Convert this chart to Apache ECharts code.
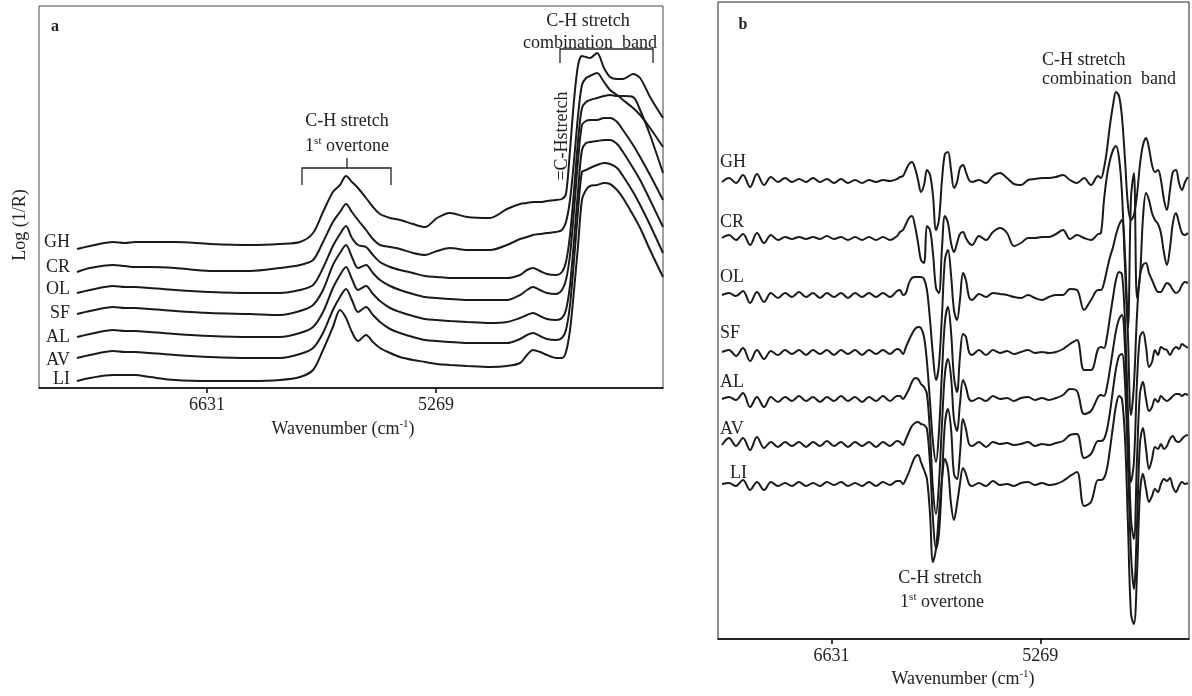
<!DOCTYPE html>
<html>
<head>
<meta charset="utf-8">
<title>NIR spectra a / b</title>
<script src="https://cdn.jsdelivr.net/npm/echarts@6/dist/echarts.min.js"></script>
<style>
html, body { margin: 0; padding: 0; background: #fff; }
#chart { width: 1192px; height: 696px; }
</style>
</head>
<body>
<div id="chart"></div>
<script>
// sample order, top to bottom
var samples = ['GH', 'CR', 'OL', 'SF', 'AL', 'AV', 'LI'];
var tickWaves = [6631, 5269];

// ---- panel a : log(1/R) raw spectra (arbitrary units, already stacked)
var aWave = [7404, 7327, 7190, 7119, 7059, 6970, 6821, 6613, 6375, 6197, 6078, 6000, 5941, 5882, 5840, 5804, 5769, 5733, 5685, 5644, 5602, 5542, 5483, 5406, 5334, 5263, 5186, 5084, 4948, 4847, 4769, 4728, 4692, 4650, 4609, 4555, 4520, 4496, 4472, 4448, 4424, 4401, 4377, 4353, 4311, 4270, 4234, 4192, 4157, 4097, 4055, 3996, 3919];
var aGH = [139, 142, 146, 145, 146, 146, 146, 144, 143, 144, 146, 155, 176, 196, 203, 212, 206, 200, 190, 181, 174, 170, 168, 164, 161, 170, 175, 171, 170, 179, 184, 185, 186, 186, 187, 188, 189, 194, 238, 288, 323, 332, 331, 330, 335, 320, 311, 309, 309, 314, 310, 291, 270];
var aCR = [116, 120, 123, 122, 121, 121, 120, 117, 117, 120, 123, 128, 146, 166, 176, 184, 176, 168, 158, 149, 143, 141, 139, 135, 133, 137, 140, 138, 138, 143, 149, 151, 153, 154, 155, 156, 158, 166, 188, 228, 273, 303, 310, 312, 315, 306, 298, 293, 288, 280, 273, 260, 241];
var aOL = [95, 98, 102, 101, 101, 100, 98, 96, 95, 95, 98, 103, 120, 142, 154, 162, 150, 143, 141, 133, 126, 121, 118, 115, 112, 111, 110, 110, 110, 110, 113, 118, 120, 117, 114, 113, 116, 126, 153, 198, 248, 280, 286, 288, 290, 292, 293, 292, 292, 291, 278, 253, 215];
var aSF = [74, 77, 81, 80, 80, 79, 77, 75, 74, 73, 77, 83, 98, 123, 135, 143, 131, 120, 123, 115, 108, 102, 98, 94, 91, 90, 89, 88, 88, 88, 93, 98, 101, 98, 95, 94, 98, 108, 133, 178, 228, 263, 267, 268, 268, 270, 270, 266, 258, 243, 231, 213, 188];
var aAL = [51, 54, 58, 57, 57, 56, 54, 52, 51, 51, 55, 61, 76, 100, 113, 121, 109, 98, 102, 94, 87, 80, 76, 72, 69, 68, 67, 66, 65, 66, 70, 73, 75, 72, 69, 68, 70, 78, 103, 148, 198, 238, 245, 246, 247, 248, 248, 244, 236, 220, 208, 188, 161];
var aAV = [30, 33, 37, 36, 36, 35, 33, 31, 30, 30, 34, 40, 55, 78, 91, 99, 88, 76, 81, 73, 66, 59, 55, 51, 48, 47, 46, 45, 45, 45, 49, 53, 55, 52, 49, 48, 50, 58, 83, 128, 178, 216, 218, 220, 223, 225, 224, 220, 212, 196, 183, 163, 135];
var aLI = [7, 10, 13, 13, 13, 11, 8, 7, 7, 8, 11, 18, 38, 61, 78, 70, 56, 47, 53, 46, 40, 35, 31, 28, 26, 24, 23, 22, 21, 22, 25, 33, 38, 36, 33, 30, 30, 36, 58, 98, 143, 188, 198, 202, 203, 205, 204, 198, 190, 173, 160, 138, 111];

// ---- panel b : derivative spectra, values relative to each trace's own baseline
var bWave = [7344, 7298, 7253, 7207, 7161, 7116, 7070, 7025, 6979, 6933, 6888, 6842, 6796, 6751, 6705, 6660, 6614, 6568, 6523, 6477, 6431, 6386, 6340, 6295, 6249, 6203,
  6184, 6164, 6145, 6125, 6106, 6086, 6066, 6047, 6027, 6008, 5988, 5969, 5949, 5930, 5910, 5891, 5871, 5851, 5832, 5812, 5793, 5773, 5754, 5734, 5714,
  5669, 5623, 5578, 5532, 5486, 5441, 5395, 5349, 5304, 5258, 5213, 5167, 5121, 5076, 5030, 4984, 4939, 4893,
  4874, 4854, 4835, 4815, 4795, 4776, 4756, 4737, 4717, 4698, 4678, 4659, 4639, 4620, 4600, 4580, 4561, 4541, 4522, 4502, 4483, 4463, 4444, 4424, 4405, 4385, 4365, 4346, 4326, 4307];
var bOffset = [459, 401, 344, 287, 240, 195, 155];
var bGH = [-2, 2, -3, 5, -7, 6, -5, 3, -2, 2, -2, 1, -2, 2, -2, 1, -3, 1, -3, 0, -3, 0, -2, 0, -1, 1,
  3, 4, 10, 16, 18, 12, 0, -12, -5, 10, 5, -15, -50, -40, 0, 26, 28, 10, -8, -2, 12, 15, 8, 0, -2,
  0, -3, 4, 7, 2, -4, -5, 0, 1, 2, 2, 3, 5, 0, -3, 2, -5, 4,
  2, 12, 30, 55, 75, 88, 84, 63, 20, -25, -40, -35, -15, 15, 35, 42, 32, 15, 8, 10, 0, -20, -30, -10, 8, 10, -3, -10, -2, 3];
var bCR = [0, 3, -2, 4, -7, 5, -5, 3, -2, 1, -1, 1, -1, 1, -1, 2, -1, 1, -2, 1, -2, 1, -2, 1, -2, 2,
  6, 8, 14, 20, 22, 12, -5, -22, -25, 12, 8, -15, -50, -55, -10, 22, 15, -5, -14, -5, 4, 6, 0, -5, -7,
  2, -2, 6, 10, 5, -8, -5, 0, 0, 1, 1, 4, 8, -1, 3, 0, -2, 4,
  5, 38, 62, 78, 88, 92, 80, 45, -30, -90, 40, 65, -60, -40, 20, 45, 38, 25, 18, 14, 5, -15, -27, -10, 15, 25, 15, 5, 3, 5];
var bOL = [0, 2, -1, 4, -8, 3, -7, 2, -3, 2, -2, 3, -2, 2, -3, 2, -2, 2, -3, 2, -2, 2, -2, 2, -2, 4,
  5, 0, 2, 12, 17, 18, 18, 18, 16, 5, -25, -60, -85, -70, -20, 35, 45, 20, -15, -25, -5, 22, 15, -2, -5,
  1, -2, 2, 1, 0, -2, -3, 0, -3, -5, -2, 0, 0, 6, 5, -15, -5, 5,
  5, 12, 25, 38, 48, 60, 70, 75, 40, -40, -120, -90, -20, 20, 30, 32, 22, 15, 8, 3, 3, 8, 12, 10, 5, 2, 4, 10, 13, 12];
var bSF = [0, 2, -4, 4, -9, 2, -7, 1, -3, 2, -2, 2, -3, 2, -2, 2, -3, 2, -2, 2, -3, 2, -2, 2, -2, 3,
  2, -2, 5, 12, 18, 23, 25, 24, 15, -10, -50, -90, -110, -80, -20, 30, 45, 20, -25, -40, -5, 18, 15, 0, -3,
  2, -3, 2, -1, 1, -2, 0, 2, -1, 0, -1, 0, 3, 8, 12, -18, -18, 3,
  5, 4, 15, 35, 55, 72, 80, 78, 30, -60, -130, -110, -30, 15, 20, 5, -15, -10, 2, -3, 5, 3, 2, -3, 2, 5, 3, 8, 6, 4];
var bAL = [0, 2, -1, 6, -8, 2, -8, 2, -3, 2, -2, 3, -2, 2, -3, 2, -2, 3, -2, 2, -3, 2, -2, 3, -2, 3,
  3, 0, 4, 10, 17, 21, 20, 15, 12, 5, -35, -90, -115, -85, -25, 25, 40, 22, -20, -32, -5, 19, 12, 0, -2,
  1, -2, 3, 0, 1, -2, 1, 2, -1, 1, -1, 1, 4, 10, 8, -15, -12, 2,
  4, 3, 12, 30, 50, 68, 80, 84, 50, -30, -120, -140, -60, 5, 17, 0, -12, -8, 0, -3, 3, 0, -2, 0, 3, 5, 5, 3, 5, 4];
var bAV = [-1, 6, -2, 6, -6, 7, -4, 2, -3, 2, -2, 2, -3, 2, -2, 3, -2, 2, -3, 2, -2, 2, -3, 2, -2, 3,
  2, -1, 5, 12, 18, 21, 22, 20, 19, 15, -20, -75, -105, -90, -35, 20, 35, 15, -30, -35, -10, 25, 15, 0, -2,
  2, -3, 2, 0, 1, -1, 0, 2, -2, 0, -1, 1, 3, 9, 10, -14, -10, 3,
  3, 5, 14, 32, 55, 75, 88, 90, 60, -20, -110, -145, -80, 0, 16, -5, -25, -15, -3, -5, 0, -5, -2, 5, 8, 3, 2, 5, 8, 9];
var bLI = [0, 1, -2, 4, -6, 2, -6, 2, -2, 1, -2, 2, -2, 1, -2, 2, -1, 2, -2, 1, -2, 2, -2, 2, -1, 3,
  3, 0, 5, 12, 20, 27, 29, 22, 14, 5, -30, -78, -65, -30, 5, 25, 15, -20, -36, -20, 0, 16, 10, 0, -2,
  1, -2, 3, -1, 0, -2, 1, 2, -1, 1, -1, 0, 3, 8, 12, -22, -18, 4,
  4, 6, 15, 35, 58, 78, 88, 85, 45, -40, -130, -140, -90, -10, 10, -5, -18, -12, -5, -8, 0, 5, 3, 6, -3, -8, -2, 2, 0, 1];

var aSets = [aGH, aCR, aOL, aSF, aAL, aAV, aLI];
var bSets = [bGH, bCR, bOL, bSF, bAL, bAV, bLI];

function pts(xs, ys, off) {
  var out = [];
  for (var i = 0; i < xs.length; i++) out.push([xs[i], ys[i] + off]);
  return out;
}

var SERIF = '"Liberation Serif", "Times New Roman", serif';
var INK = '#1a1a1a';

var series = [];
samples.forEach(function (s, k) {
  series.push({
    name: s + ' a', type: 'line', xAxisIndex: 0, yAxisIndex: 0,
    data: pts(aWave, aSets[k], 0), smooth: 0.3, showSymbol: false,
    lineStyle: { color: INK, width: 2 }
  });
  series.push({
    name: s + ' b', type: 'line', xAxisIndex: 1, yAxisIndex: 1,
    data: pts(bWave, bSets[k], bOffset[k]), smooth: 0.35, showSymbol: false,
    lineStyle: { color: INK, width: 2 }
  });
});

function xAx(grid, min, max) {
  return {
    type: 'value', gridIndex: grid, min: min, max: max, inverse: true,
    axisLine: { show: true, lineStyle: { color: '#000', width: 1.5 } },
    axisTick: { show: true, customValues: tickWaves, length: 5, lineStyle: { color: '#000', width: 1.5 } },
    axisLabel: {
      show: true, customValues: tickWaves, fontFamily: SERIF, fontSize: 18, color: '#222', margin: 8,
      formatter: function (v) { return String(v); }
    },
    splitLine: { show: false }
  };
}
function yAx(grid, max) {
  return {
    type: 'value', gridIndex: grid, min: 0, max: max,
    axisLine: { show: false }, axisTick: { show: false }, axisLabel: { show: false }, splitLine: { show: false }
  };
}

function txt(x, y, text, opt) {
  opt = opt || {};
  return {
    type: 'text', x: x, y: y, z: 100, rotation: opt.rot || 0,
    style: {
      text: text, fill: '#222',
      font: (opt.bold ? 'bold ' : '') + (opt.size || 18) + 'px ' + SERIF,
      align: opt.align || 'center', verticalAlign: 'middle',
      rich: opt.rich
    }
  };
}
var supRich = {
  t: { fontSize: 18, fontFamily: SERIF, fill: '#222', lineHeight: 20 },
  s: { fontSize: 11, fontFamily: SERIF, fill: '#222', lineHeight: 11, verticalAlign: 'top' }
};
function line(points) {
  return { type: 'polyline', z: 100, shape: { points: points }, style: { stroke: '#222', lineWidth: 1.3, fill: null } };
}

var aLabelY = [242, 267, 289, 313, 337, 360, 379];
var bLabelY = [162, 222, 277, 333, 382, 429, 473];
var graphics = [
  txt(55, 27, 'a', { bold: true, size: 16 }),
  txt(20, 225, 'Log (1/R)', { rot: Math.PI / 2 }),
  txt(347, 121, 'C-H stretch'),
  txt(347, 146, '{t|1}{s|st}{t| overtone}', { rich: supRich }),
  line([[302, 185], [302, 168], [391, 168], [391, 185]]),
  line([[347, 168], [347, 158]]),
  txt(588, 21, 'C-H stretch'),
  txt(590, 43, 'combination  band'),
  line([[560, 63], [560, 49], [653, 49], [653, 63]]),
  txt(562, 136, '=C-Hstretch', { rot: Math.PI / 2 }),
  txt(343, 429, '{t|Wavenumber (cm}{s|-1}{t|)}', { rich: supRich }),
  txt(743, 25, 'b', { bold: true, size: 16 }),
  txt(1042, 60, 'C-H stretch', { align: 'left' }),
  txt(1042, 79, 'combination  band', { align: 'left' }),
  txt(940, 578, 'C-H stretch'),
  txt(942, 602, '{t|1}{s|st}{t| overtone}', { rich: supRich }),
  txt(963, 679, '{t|Wavenumber (cm}{s|-1}{t|)}', { rich: supRich })
];
samples.forEach(function (s, k) {
  graphics.push(txt(70, aLabelY[k], s, { align: 'right' }));
  graphics.push(txt(k === 6 ? 730 : 720, bLabelY[k], s, { align: 'left' }));
});

var option = {
  animation: false,
  backgroundColor: '#fff',
  grid: [
    { left: 39, top: 6, width: 624, height: 382, show: true, borderColor: '#444', borderWidth: 1 },
    { left: 718, top: 2, width: 471, height: 637, show: true, borderColor: '#222', borderWidth: 1 }
  ],
  xAxis: [xAx(0, 3919, 7630), xAx(1, 4300, 7370)],
  yAxis: [yAx(0, 382), yAx(1, 637)],
  series: series,
  graphic: graphics
};

var chart = echarts.init(document.getElementById('chart'));
chart.setOption(option);
</script>
</body>
</html>
